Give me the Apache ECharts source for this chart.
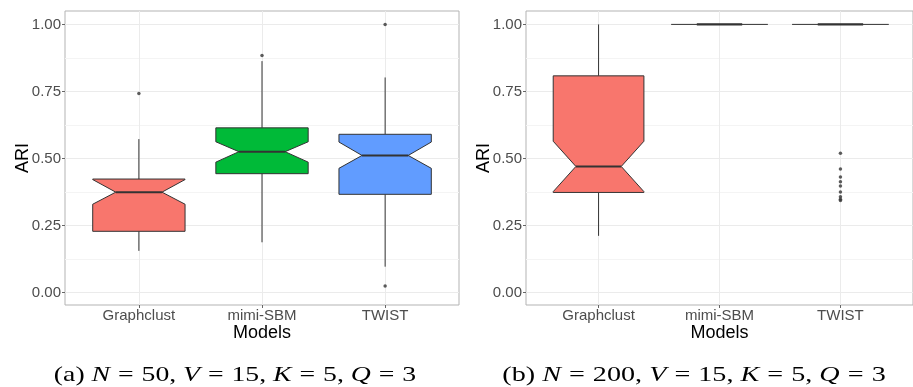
<!DOCTYPE html>
<html>
<head>
<meta charset="utf-8">
<script src="https://cdn.jsdelivr.net/npm/echarts@6/dist/echarts.min.js"></script>
<style>
  html, body { margin: 0; padding: 0; background: #fff; }
  #chart { width: 913px; height: 387px; }
</style>
</head>
<body>
<div id="chart"></div>
<script>
  // categories and tick labels
  const categories = ['Graphclust', 'mimi-SBM', 'TWIST'];
  const yTicks = [0, 0.25, 0.5, 0.75, 1];
  const yMinorTicks = [0.125, 0.375, 0.625, 0.875];
  const boxColors = ['#F8766D', '#00BA38', '#619CFF'];

  // box stats per model: [lowWhisker, q1, notchLow, median, notchHigh, q3, highWhisker]
  const statsA = [
    [0.155, 0.228, 0.329, 0.374, 0.421, 0.423, 0.572],
    [0.187, 0.443, 0.486, 0.525, 0.562, 0.614, 0.863],
    [0.096, 0.366, 0.463, 0.511, 0.561, 0.590, 0.802]
  ];
  const statsB = [
    [0.211, 0.373, 0.376, 0.470, 0.564, 0.808, 1.0],
    [1.0, 1.0, 1.0, 1.0, 1.0, 1.0, 1.0],
    [1.0, 1.0, 1.0, 1.0, 1.0, 1.0, 1.0]
  ];
  // outliers: [model index, ARI]
  const outliersA = [[0, 0.742], [1, 0.884], [2, 1.0], [2, 0.024]];
  const outliersB = [
    [2, 0.519], [2, 0.460], [2, 0.431], [2, 0.413], [2, 0.397],
    [2, 0.375], [2, 0.357], [2, 0.348], [2, 0.343]
  ];

  const chart = echarts.init(document.getElementById('chart'));
  const FONT = 'Liberation Sans';
  const BOX_W = 0.75;

  // notched box, drawn through the axes
  function renderBox(params, api) {
    const x = api.value(0);
    const y = k => api.coord([x, api.value(k)])[1];
    const px = dx => api.coord([x + dx, 0])[0];
    const hw = BOX_W / 2, nw = BOX_W / 4;
    const line = '#333333';
    const kids = [];
    if (api.value(2) === api.value(6)) {
      // all values equal: box collapses to a line
      const yy = y(4);
      kids.push({ type: 'line', shape: { x1: px(-0.4), y1: yy, x2: px(0.4), y2: yy },
        style: { stroke: line, lineWidth: 1 } });
      kids.push({ type: 'line', shape: { x1: px(-nw), y1: yy, x2: px(nw), y2: yy },
        style: { stroke: line, lineWidth: 2.2 } });
      return { type: 'group', children: kids };
    }
    const cx = px(0);
    kids.push({ type: 'line', shape: { x1: cx, y1: y(1), x2: cx, y2: y(2) },
      style: { stroke: line, lineWidth: 1 } });
    kids.push({ type: 'line', shape: { x1: cx, y1: y(6), x2: cx, y2: y(7) },
      style: { stroke: line, lineWidth: 1 } });
    const xl = px(-hw), xr = px(hw), xnl = px(-nw), xnr = px(nw);
    kids.push({
      type: 'polygon',
      shape: { points: [
        [xl, y(2)], [xl, y(3)], [xnl, y(4)], [xl, y(5)], [xl, y(6)],
        [xr, y(6)], [xr, y(5)], [xnr, y(4)], [xr, y(3)], [xr, y(2)]
      ] },
      style: { fill: boxColors[params.dataIndex], stroke: line, lineWidth: 1 }
    });
    kids.push({ type: 'line', shape: { x1: xnl, y1: y(4), x2: xnr, y2: y(4) },
      style: { stroke: line, lineWidth: 2 } });
    return { type: 'group', children: kids };
  }

  function xAxisFor(gi) {
    return {
      type: 'value', gridIndex: gi, min: 0.4, max: 3.6,
      axisLine: { show: false, onZero: false },
      axisTick: { show: true, length: 3, customValues: [1, 2, 3], lineStyle: { color: '#666' } },
      axisLabel: { customValues: [1, 2, 3], formatter: v => categories[Math.round(v) - 1],
        fontFamily: FONT, fontSize: 15, color: '#4D4D4D', margin: 3 },
      splitLine: { show: true, lineStyle: { color: '#ebebeb', width: 1 } },
      name: 'Models', nameLocation: 'middle', nameGap: 19.5, nameMoveOverlap: false,
      nameTextStyle: { fontFamily: FONT, fontSize: 18, color: '#000' }
    };
  }
  function yAxisFor(gi) {
    return {
      type: 'value', gridIndex: gi, min: -0.047, max: 1.05,
      axisLine: { show: false, onZero: false },
      axisTick: { show: true, length: 3, customValues: yTicks, lineStyle: { color: '#666' } },
      axisLabel: { customValues: yTicks, formatter: v => v.toFixed(2),
        fontFamily: FONT, fontSize: 15, color: '#4D4D4D', margin: 4 },
      splitLine: { show: true, lineStyle: { color: '#ebebeb', width: 1 } },
      name: 'ARI', nameLocation: 'middle', nameGap: 33, nameRotate: 90, nameMoveOverlap: false,
      nameTextStyle: { fontFamily: FONT, fontSize: 18, color: '#000' }
    };
  }
  function yMinorFor(gi) {
    return {
      type: 'value', gridIndex: gi, min: -0.047, max: 1.05, position: 'left',
      axisLine: { show: false, onZero: false },
      axisTick: { show: false, customValues: yMinorTicks },
      axisLabel: { show: false, customValues: yMinorTicks },
      splitLine: { show: true, lineStyle: { color: '#f4f4f4', width: 1 } }
    };
  }

  function caption(label, n) {
    return '{r|(' + label + ') }{i|N}{e|=}{r|' + n + ', }{i|V}{e|=}{r|15, }{i|K}{e|=}{r|5, }{i|Q}{e|=}{r|3}';
  }
  const capRich = {
    r: { fontFamily: 'Liberation Serif', fontSize: 21, fill: '#000' },
    i: { fontFamily: 'Liberation Serif', fontStyle: 'italic', fontSize: 21, fill: '#000' },
    e: { fontFamily: 'Liberation Serif', fontSize: 21, fill: '#000', padding: [0, 6] }
  };

  const option = {
    backgroundColor: '#fff',
    animation: false,
    grid: [
      { left: 65, top: 11, width: 394, height: 294, show: true, borderColor: '#b3b3b3', borderWidth: 1, backgroundColor: 'transparent' },
      { left: 526, top: 11, width: 395, height: 294, show: true, borderColor: '#b3b3b3', borderWidth: 1, backgroundColor: 'transparent' }
    ],
    xAxis: [xAxisFor(0), xAxisFor(1)],
    yAxis: [yAxisFor(0), yMinorFor(0), yAxisFor(1), yMinorFor(1)],
    series: [
      {
        type: 'custom', xAxisIndex: 0, yAxisIndex: 0, renderItem: renderBox,
        encode: { x: 0, y: [1, 2, 3, 4, 5, 6, 7] },
        data: statsA.map((s, i) => [i + 1].concat(s))
      },
      {
        type: 'scatter', xAxisIndex: 0, yAxisIndex: 0, symbolSize: 3.5,
        itemStyle: { color: '#333' },
        data: outliersA.map(o => [o[0] + 1, o[1]])
      },
      {
        type: 'custom', xAxisIndex: 1, yAxisIndex: 2, renderItem: renderBox,
        encode: { x: 0, y: [1, 2, 3, 4, 5, 6, 7] },
        data: statsB.map((s, i) => [i + 1].concat(s))
      },
      {
        type: 'scatter', xAxisIndex: 1, yAxisIndex: 2, symbolSize: 3.5,
        itemStyle: { color: '#333' },
        data: outliersB.map(o => [o[0] + 1, o[1]])
      }
    ],
    graphic: [
      { type: 'text', x: 235, y: 375, scaleX: 1.32,
        style: { text: caption('a', 50), rich: capRich, align: 'center', verticalAlign: 'middle' } },
      { type: 'text', x: 694, y: 375, scaleX: 1.34,
        style: { text: caption('b', 200), rich: capRich, align: 'center', verticalAlign: 'middle' } }
    ]
  };
  chart.setOption(option);
</script>
</body>
</html>
